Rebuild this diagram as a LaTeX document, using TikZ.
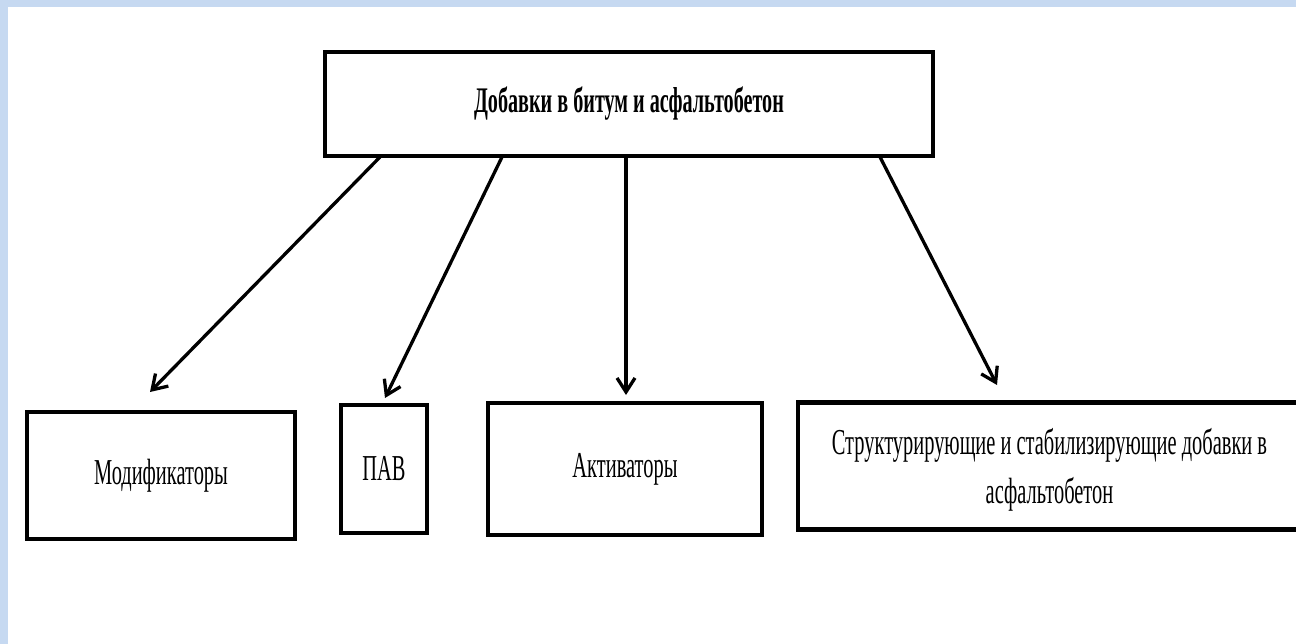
\documentclass[tikz,border=0pt]{standalone}
\usepackage{fontspec}
\setmainfont{Liberation Serif}[FakeStretch=0.56]
\usetikzlibrary{arrows.meta}
\definecolor{frameblue}{RGB}{198,217,241}
\tikzset{
  box/.style={draw=black, line width=4.5pt, fill=white, rectangle, inner sep=0pt, align=center,
    font=\fontsize{36.5}{49}\selectfont},
  arr/.style={line width=3.3pt, -{Straight Barb[length=14pt,width=18pt,line width=3.3pt]}},
}
\begin{document}
\begin{tikzpicture}[x=1pt,y=-1pt]
\path[use as bounding box] (0,0) rectangle (1296,644);
\clip (0,0) rectangle (1296,644);
\fill[frameblue] (0,0) rectangle (1296,644);
\fill[white] (8,7) rectangle (1296,644);

\node[box, minimum width=608pt, minimum height=104pt, font=\fontsize{36}{40}\selectfont\bfseries] (top) at (629,104) {Добавки в битум и асфальтобетон};
\node[box, minimum width=268pt, minimum height=127pt] (mod) at (161,475.5) {Модификаторы};
\node[box, minimum width=86pt, minimum height=128pt] (pav) at (384,469) {ПАВ};
\node[box, minimum width=274pt, minimum height=132pt] (akt) at (625,469) {Активаторы};
\node[box, minimum width=503pt, minimum height=127pt, text depth=0pt] (str) at (1049.5,466) {Структурирующие и стабилизирующие добавки в\\асфальтобетон};

\coordinate (s1) at (380,157);
\coordinate (s2) at (502,157);
\coordinate (s3) at (626,157);
\coordinate (s4) at (880,157);
\coordinate (e1) at (150,392);
\coordinate (e2) at (385,398);
\coordinate (e3) at (626,395);
\coordinate (e4) at (997,385);

\draw[arr] (s1) -- (e1);
\draw[arr] (s2) -- (e2);
\draw[arr] (s3) -- (e3);
\draw[arr] (s4) -- (e4);
\end{tikzpicture}
\end{document}
